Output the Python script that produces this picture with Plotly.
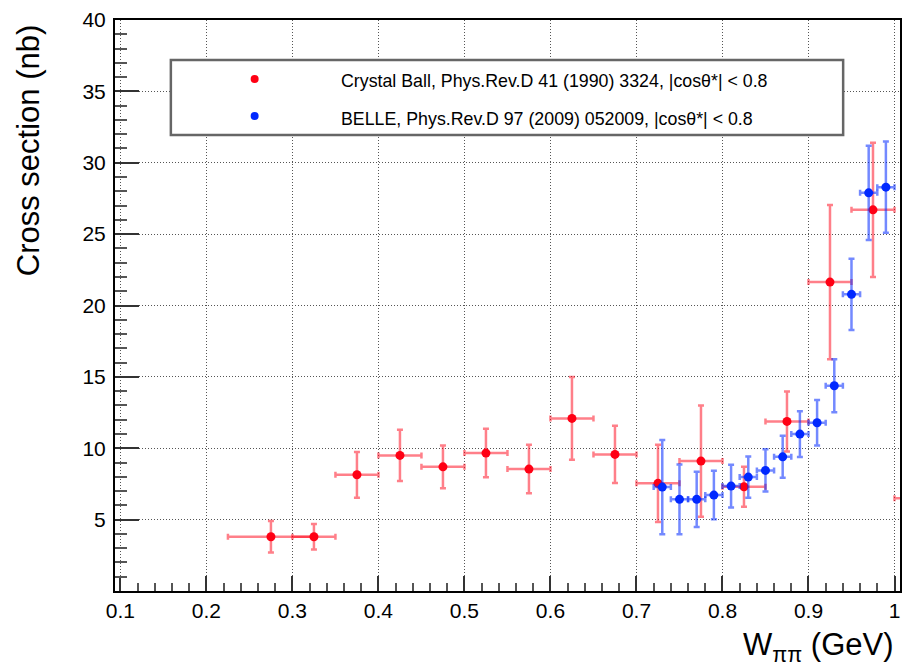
import plotly.graph_objects as go

# ---------------- data ----------------
cb_x = [0.275, 0.325, 0.375, 0.425, 0.475, 0.525, 0.575, 0.625, 0.675,
        0.725, 0.775, 0.825, 0.875, 0.925, 0.975, 1.025]
cb_y = [3.80, 3.80, 8.14, 9.50, 8.70, 9.66, 8.54, 12.09, 9.57,
        7.54, 9.10, 7.30, 11.88, 21.64, 26.70, 6.50]
cb_yerr = [1.1, 0.9, 1.6, 1.8, 1.5, 1.7, 1.7, 2.9, 2.0,
           2.7, 3.9, 1.4, 2.1, 5.4, 4.7, 1.0]
cb_xerr = [0.05, 0.025, 0.025, 0.025, 0.025, 0.025, 0.025, 0.025, 0.025,
           0.025, 0.025, 0.025, 0.025, 0.025, 0.025, 0.025]

belle_x = [0.73, 0.75, 0.77, 0.79, 0.81, 0.83, 0.85, 0.87, 0.89, 0.91,
           0.93, 0.95, 0.97, 0.99]
belle_y = [7.28, 6.42, 6.42, 6.72, 7.35, 7.98, 8.45, 9.40, 10.99, 11.79,
           14.38, 20.78, 27.89, 28.29]
belle_yerr = [3.3, 2.45, 1.93, 1.7, 1.5, 1.45, 1.48, 1.47, 1.6, 1.59,
              1.85, 2.5, 3.3, 3.2]
belle_xerr = [0.01] * len(belle_x)

x_ticks = [0.1, 0.2, 0.3, 0.4, 0.5, 0.6, 0.7, 0.8, 0.9, 1.0]
x_ticktext = ["0.1", "0.2", "0.3", "0.4", "0.5", "0.6", "0.7", "0.8", "0.9", "1"]
y_ticks = [5, 10, 15, 20, 25, 30, 35, 40]

legend_labels = ["Crystal Ball, Phys.Rev.D 41 (1990) 3324, |cosθ*| < 0.8",
                 "BELLE, Phys.Rev.D 97 (2009) 052009, |cosθ*| < 0.8"]

RED = "rgb(255,0,20)"
BLUE = "rgb(0,40,255)"
RED_ERR = "rgba(255,0,20,0.5)"
BLUE_ERR = "rgba(0,40,255,0.55)"

W, H = 902, 670
L, R, T, B = 115, 0, 20, 79
PW, PH = W - L - R, H - T - B


def px(xp):
    return (xp - L) / PW


def py(yp):
    return (H - B - yp) / PH


FONT = "Liberation Sans, Arial, Helvetica, sans-serif"

fig = go.Figure()
fig.add_trace(go.Scatter(
    x=cb_x, y=cb_y, mode="markers",
    marker=dict(color=RED, size=9),
    error_y=dict(type="data", array=cb_yerr, color=RED_ERR, thickness=2.5, width=3),
    error_x=dict(type="data", array=cb_xerr, color=RED_ERR, thickness=2.5, width=3),
    showlegend=False,
))
fig.add_trace(go.Scatter(
    x=belle_x, y=belle_y, mode="markers",
    marker=dict(color=BLUE, size=9),
    error_y=dict(type="data", array=belle_yerr, color=BLUE_ERR, thickness=2.5, width=3),
    error_x=dict(type="data", array=belle_xerr, color=BLUE_ERR, thickness=2.5, width=3),
    showlegend=False,
))

grid = dict(showgrid=True, gridcolor="#555", gridwidth=1, griddash="1px,2px")

fig.update_xaxes(
    range=[0.0937, 1.0064], tickvals=x_ticks, ticktext=x_ticktext,
    ticks="inside", ticklen=15, tickwidth=1.5, tickcolor="#333",
    minor=dict(dtick=0.02, tick0=0.1, ticklen=8, tickwidth=1.5, tickcolor="#555", ticks="inside"),
    showline=True, linecolor="black", linewidth=2, mirror=True,
    zeroline=False, tickfont=dict(family=FONT, size=21, color="black"),
    **grid,
)
fig.update_yaxes(
    range=[0, 40], tickvals=y_ticks,
    ticks="inside", ticklen=24, tickwidth=1.5, tickcolor="#333",
    minor=dict(dtick=1, tick0=0, ticklen=12, tickwidth=1.5, tickcolor="#555", ticks="inside"),
    showline=True, linecolor="black", linewidth=2, mirror=True,
    zeroline=False, tickfont=dict(family=FONT, size=21, color="black"),
    ticklabelstandoff=3,
    **grid,
)

shapes = [dict(type="rect", xref="paper", yref="paper",
               x0=px(171), x1=px(845), y0=py(135), y1=py(60),
               line=dict(color="#666", width=2.5), fillcolor="white", layer="above")]
for yy, col in [(79, RED), (116, BLUE)]:
    shapes.append(dict(type="circle", xref="paper", yref="paper",
                       x0=px(251), x1=px(259), y0=py(yy + 4), y1=py(yy - 4),
                       line=dict(color=col, width=0), fillcolor=col, layer="above"))

annotations = []
for lab, yy in zip(legend_labels, [80.5, 119.5]):
    annotations.append(dict(text=lab, xref="paper", yref="paper", x=px(340), y=py(yy),
                            xanchor="left", yanchor="middle", showarrow=False,
                            font=dict(family=FONT, size=17.8, color="black")))
annotations.append(dict(text="W<sub>ππ</sub> (GeV)", xref="paper", yref="paper",
                        x=px(898), y=py(647), xanchor="right", yanchor="middle",
                        showarrow=False, font=dict(family=FONT, size=31, color="black")))
annotations.append(dict(text="Cross section (nb)", xref="paper", yref="paper",
                        x=px(29), y=py(22), xanchor="center", yanchor="top",
                        textangle=-90, showarrow=False,
                        font=dict(family=FONT, size=31, color="black")))

fig.update_layout(
    width=W, height=H, margin=dict(l=L, r=R, t=T, b=B, pad=0),
    paper_bgcolor="white", plot_bgcolor="white",
    shapes=shapes, annotations=annotations,
)

fig.write_html("out.html")
